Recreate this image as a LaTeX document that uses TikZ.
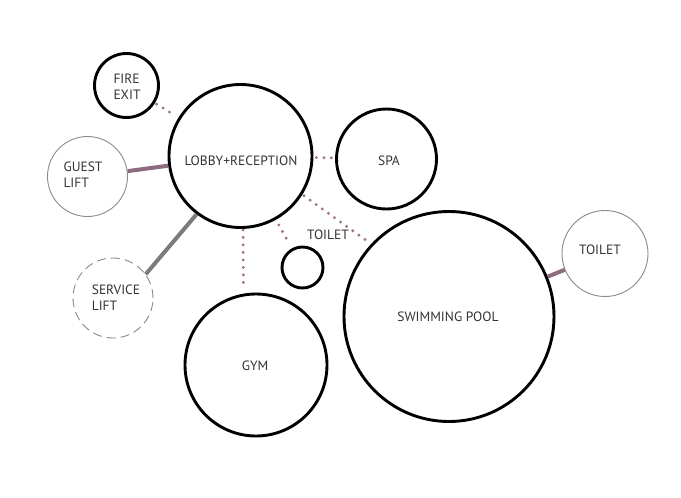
\documentclass[tikz,border=0pt]{standalone}
\usepackage{fontspec}
\setmainfont{PT Sans}
\definecolor{dotc}{HTML}{9E7478}
\definecolor{mauve}{HTML}{8E6A7E}
\definecolor{txt}{HTML}{333333}
\definecolor{thin}{HTML}{8A8A8A}
\begin{document}
\begin{tikzpicture}[x=1pt,y=-1pt,
  room/.style={circle,draw=black,line width=2.9pt,inner sep=0pt,minimum size=#1},
  aux/.style={circle,draw=thin,line width=0.9pt,inner sep=0pt,minimum size=#1},
  auxdash/.style={circle,draw=thin,line width=0.9pt,dash pattern=on 9pt off 5pt,inner sep=0pt,minimum size=#1},
  lbl/.style={font=\fontsize{13.5}{16}\selectfont,text=txt,inner sep=0pt},
  lbll/.style={lbl,align=left},
  dotlink/.style={dotc,line width=3.2pt,line cap=round,dash pattern=on 0pt off 7.5pt},
  mlink/.style={mauve,line width=4pt},
  glink/.style={thin!90!black,line width=4pt}]
\useasboundingbox (0,0) rectangle (681,498);
\fill[white] (0,0) rectangle (681,498);
% circles
\node[room=64pt] (fire) at (126.5,85.5) {};
\node[room=143pt] (lobby) at (240.5,156) {};
\node[room=100pt] (spa) at (386.5,159) {};
\node[aux=80pt] (guest) at (87.5,176.5) {};
\node[auxdash=80pt] (service) at (113,298) {};
\node[room=41pt] (toiletA) at (302.5,267.5) {};
\node[room=142pt] (gym) at (256,365) {};
\node[room=210pt] (pool) at (449,316.5) {};
\node[aux=86pt] (toiletB) at (605,253.5) {};
% labels
\node[lbll] (tfire) at (127,87) {FIRE\\EXIT};
\node[lbll] (tguest) at (83,175) {GUEST\\LIFT};
\node[lbll] (tservice) at (116,298) {SERVICE\\LIFT};
\node[lbl] (tlobby) at (241,161) {LOBBY+RECEPTION};
\node[lbl] (tspa) at (389,161) {SPA};
\node[lbl] (ttoiletA) at (328,235) {TOILET};
\node[lbl] (tpool) at (448,317) {SWIMMING POOL};
\node[lbl] (tgym) at (255,366) {GYM};
\node[lbl] (ttoiletB) at (600,250) {TOILET};
% connectors
\draw[dotlink,shorten >=6pt,shorten <=2pt] (fire) -- (lobby);
\draw[dotlink,shorten <=3pt] (lobby) -- (spa);
\draw[dotlink,shorten <=1pt,shorten >=4pt] (lobby.272) -- (gym.100);
\draw[dotlink,shorten <=6pt,shorten >=6pt] (lobby) -- (toiletA);
\draw[dotlink,shorten <=2pt,shorten >=7pt] (lobby.-32) -- (pool.137);
\draw[mlink] (guest) -- (lobby);
\draw[glink] (service.36) -- (lobby.233);
\draw[mlink] (pool) -- (toiletB);
\end{tikzpicture}
\end{document}
